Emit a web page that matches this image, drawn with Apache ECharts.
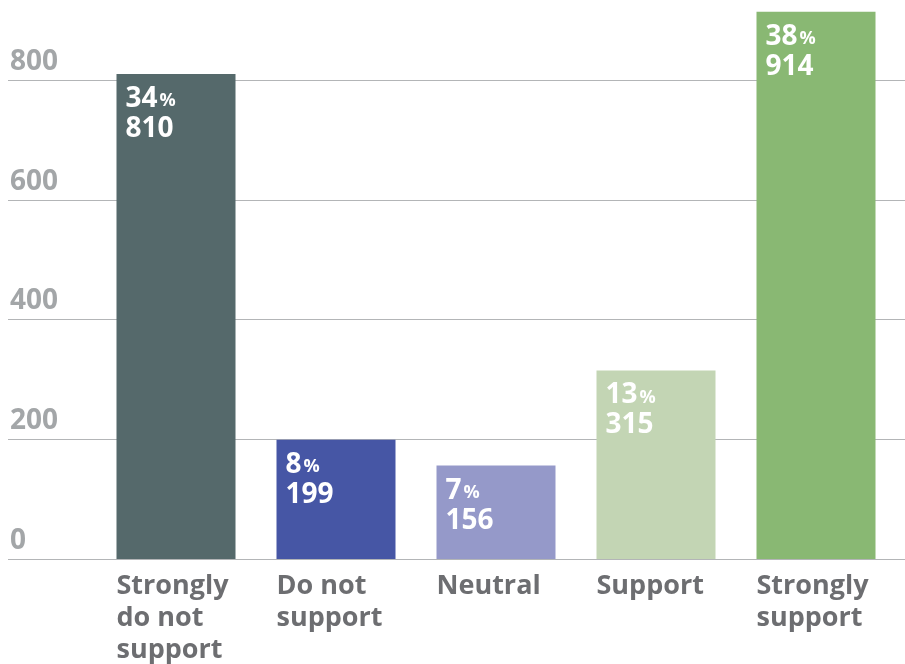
<!DOCTYPE html>
<html><head><meta charset="utf-8">
<script src="https://cdn.jsdelivr.net/npm/echarts@6/dist/echarts.min.js"></script>
<style>html,body{margin:0;padding:0;background:#fff}#c{width:905px;height:664px}</style>
</head><body><div id="c"></div>
<script>
const categories = ['Strongly\ndo not\nsupport', 'Do not\nsupport', 'Neutral', 'Support', 'Strongly\nsupport'];
const counts = [810, 199, 156, 315, 914];
const percents = [34, 8, 7, 13, 38];
const colors = ['#55696b', '#4656a5', '#9599c9', '#c3d5b4', '#89b873'];
const yTicks = [0, 200, 400, 600, 800];

const FONT = 'Open Sans';
const chart = echarts.init(document.getElementById('c'));
chart.setOption({
  animation: false,
  grid: [
    {left: 96, right: 9, top: 80, bottom: 105},
    {left: 8, right: 0, top: 80, bottom: 105}
  ],
  xAxis: [
    {gridIndex: 0, type: 'category', data: categories,
     axisLine: {show: false}, axisTick: {show: false},
     axisLabel: {
       margin: 11, interval: 0,
       formatter: v => v.split('\n').map(s => '{a|' + s + '}').join('\n'),
       rich: {a: {width: 119, align: 'left', fontFamily: FONT, fontWeight: 'bold', fontSize: 27, lineHeight: 32, color: '#6d6e71'}}
     }},
    {gridIndex: 1, type: 'value', show: false}
  ],
  yAxis: [
    {gridIndex: 0, type: 'value', min: 0, max: 800, interval: 200, show: false},
    {gridIndex: 1, type: 'value', min: 0, max: 800, interval: 200,
     axisLine: {show: false}, axisTick: {show: false},
     splitLine: {show: true, lineStyle: {color: '#b3b5b7', width: 1.2}},
     axisLabel: {inside: true, margin: 2, verticalAlign: 'bottom', align: 'left',
       padding: [0, 0, 4, 0],
       formatter: v => yTicks.includes(v) ? String(v) : '',
       fontFamily: FONT, fontWeight: 'bold', fontSize: 28, color: '#a3a6a8'}}
  ],
  series: [{
    type: 'bar', xAxisIndex: 0, yAxisIndex: 0, clip: false, barWidth: 119,
    data: counts.map((v, i) => ({value: v, itemStyle: {color: colors[i]}})),
    label: {
      show: true, position: [9, 10], align: 'left', verticalAlign: 'top',
      formatter: p => '{p|' + percents[p.dataIndex] + '}{s|%}\n{p|' + p.value + '}',
      rich: {
        p: {fontFamily: FONT, fontWeight: 'bold', fontSize: 28, lineHeight: 30, color: '#fff'},
        s: {fontFamily: FONT, fontWeight: 'bold', fontSize: 18, lineHeight: 30, color: '#fff', padding: [4, 0, 0, 2]}
      }
    }
  }]
});
</script></body></html>
